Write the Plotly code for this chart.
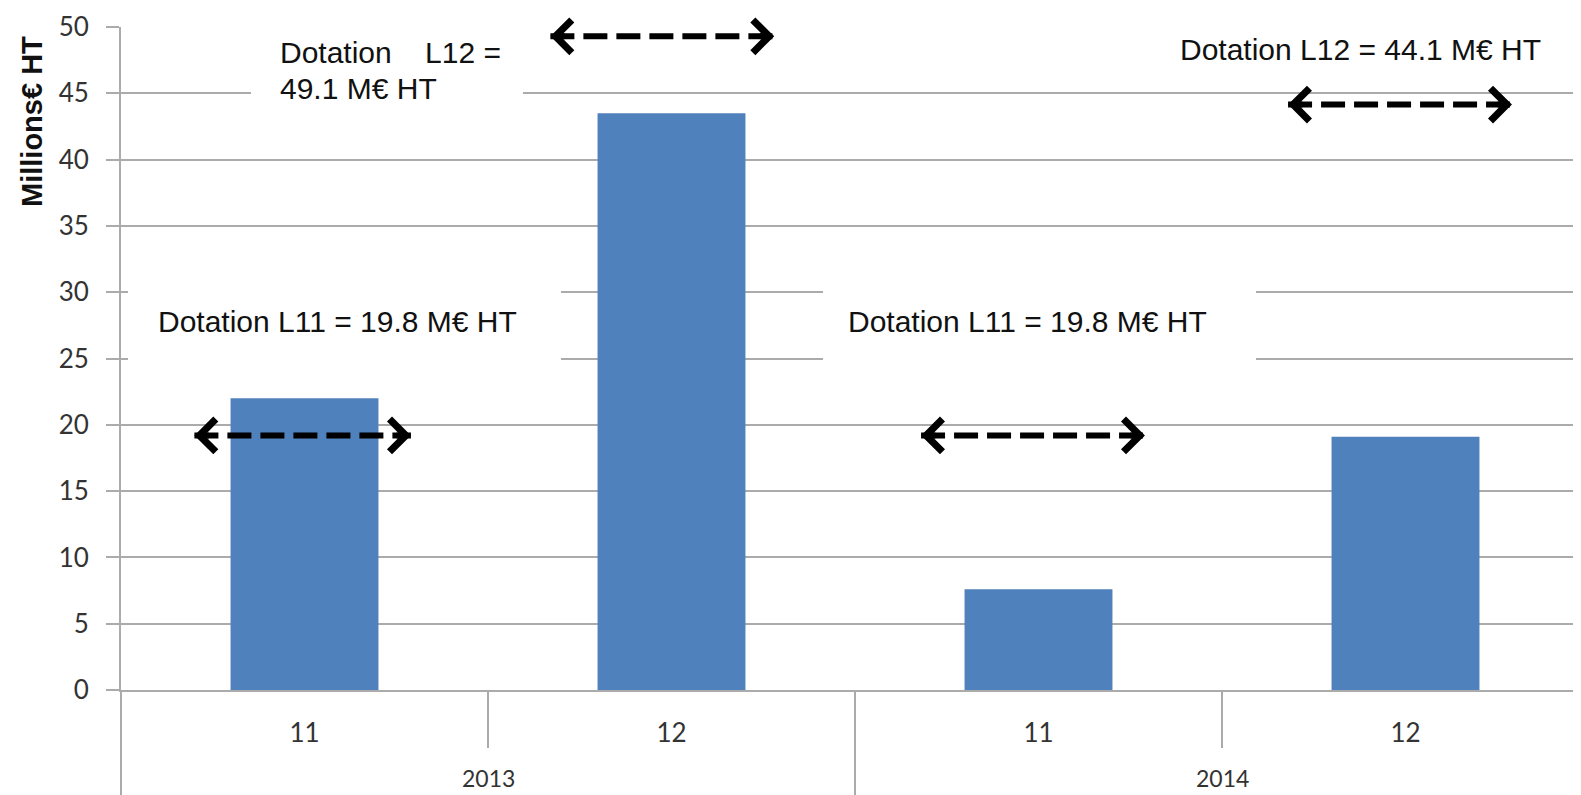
import plotly.graph_objects as go

# ---------------- data ----------------
years = ["2013", "2013", "2014", "2014"]
lots = ["11", "12", "11", "12"]
values = [22.0, 43.5, 7.6, 19.1]
y_ticks = [0, 5, 10, 15, 20, 25, 30, 35, 40, 45, 50]

arrow_levels = [19.2, 49.3, 19.2, 44.15]
arrow_start = [-0.30, 0.67, 1.68, 2.68]
arrow_end = [0.29, 1.28, 2.29, 3.29]

note_texts = ["Dotation\u00a0\u00a0\u00a0\u00a0L12 =", "49.1 M€ HT",
              "Dotation L11 = 19.8 M€ HT", "Dotation L11 = 19.8 M€ HT",
              "Dotation L12 = 44.1 M€ HT"]

# ---------------- geometry (pixels of the 1581x795 page) ----------------
W, H = 1581, 795
L, R, T, B = 113, 0, 19, 113
PW, PH = W - L - R, H - T - B


def px(xp):
    return (xp - L) / PW


def py(yp):
    return (H - B - yp) / PH


GRID = "#ababab"
BLUE = "#4F81BD"
TICKC = "#333333"
n = len(values)
xs = list(range(n))

fig = go.Figure()
fig.add_trace(go.Bar(x=xs, y=values, width=0.403, marker=dict(color=BLUE, line=dict(width=0)),
                     hoverinfo="skip"))

shapes = []
annotations = []

# white label boxes (cover gridlines)
boxes = [(243, 515, -5, 110), (120, 553, 272, 358), (815, 1248, 272, 358), (1177, 1549, -5, 68)]
for x0, x1, y0, y1 in boxes:
    shapes.append(dict(type="rect", xref="paper", yref="paper", x0=px(x0), x1=px(x1),
                       y0=py(y1), y1=py(y0), fillcolor="white", line=dict(width=0), layer="above"))

# texts
note_pos = [(270, 45), (270, 80), (148, 313), (838, 313), (1170, 42)]
for txt, (xp, yp) in zip(note_texts, note_pos):
    annotations.append(dict(text=txt, xref="paper", yref="paper", x=px(xp), y=py(yp),
                            xanchor="left", yanchor="middle", showarrow=False,
                            font=dict(family="Liberation Sans", size=30, color="#111111")))

# dashed double arrows
for a0, a1, lev in zip(arrow_start, arrow_end, arrow_levels):
    shapes.append(dict(type="line", xref="x", yref="y", x0=a0, x1=a1, y0=lev, y1=lev,
                       line=dict(color="black", width=6, dash="24px,9px"), layer="above"))
    for tip, off in ((a1, -16), (a0, 16)):
        annotations.append(dict(x=tip, y=lev, xref="x", yref="y", ax=off, ay=0, text="",
                                showarrow=True, arrowhead=4, arrowsize=1.05, arrowwidth=6,
                                arrowcolor="black"))

# category dividers below the axis
for k in range(n + 1):
    xb = k / n
    long_line = (k % 2 == 0)
    y_end = -B / PH if long_line else py(740)
    shapes.append(dict(type="line", xref="paper", yref="paper", x0=xb, x1=xb, y0=0, y1=y_end,
                       line=dict(color=GRID, width=2), layer="above"))

# year (group) labels
groups = []
for i, yv in enumerate(years):
    if not groups or groups[-1][0] != yv:
        groups.append([yv, i, i])
    else:
        groups[-1][2] = i
for yv, i0, i1 in groups:
    annotations.append(dict(text=yv, xref="x", yref="paper", x=(i0 + i1) / 2, y=py(770),
                            xanchor="center", yanchor="middle", showarrow=False,
                            font=dict(family="Lato", size=23, color=TICKC)))

# y-axis title
annotations.append(dict(text="<b>Millions€ HT</b>", xref="paper", yref="paper", x=px(24), y=py(114),
                        xanchor="center", yanchor="middle", textangle=-90, showarrow=False,
                        font=dict(family="Liberation Sans", size=29, color="#111111")))

fig.update_layout(
    width=W, height=H,
    margin=dict(l=L, r=R, t=T, b=B, pad=0),
    paper_bgcolor="white", plot_bgcolor="white",
    showlegend=False,
    shapes=shapes, annotations=annotations,
    xaxis=dict(range=[-0.5, n - 0.5], tickmode="array", tickvals=xs, ticktext=lots,
               showgrid=False, zeroline=False, showline=True, linecolor=GRID, linewidth=2,
               ticks="", ticklabelstandoff=19,
               tickfont=dict(family="Lato", size=26, color=TICKC), fixedrange=True),
    yaxis=dict(range=[0, 50], tickmode="array", tickvals=y_ticks, ticktext=[str(v) for v in y_ticks],
               showgrid=True, gridcolor=GRID, gridwidth=2, zeroline=False,
               showline=True, linecolor=GRID, linewidth=2,
               ticks="outside", ticklen=13, tickwidth=2, tickcolor=GRID, ticklabelstandoff=12,
               tickfont=dict(family="Lato", size=26, color=TICKC), fixedrange=True),
)

fig.write_html("out.html")
